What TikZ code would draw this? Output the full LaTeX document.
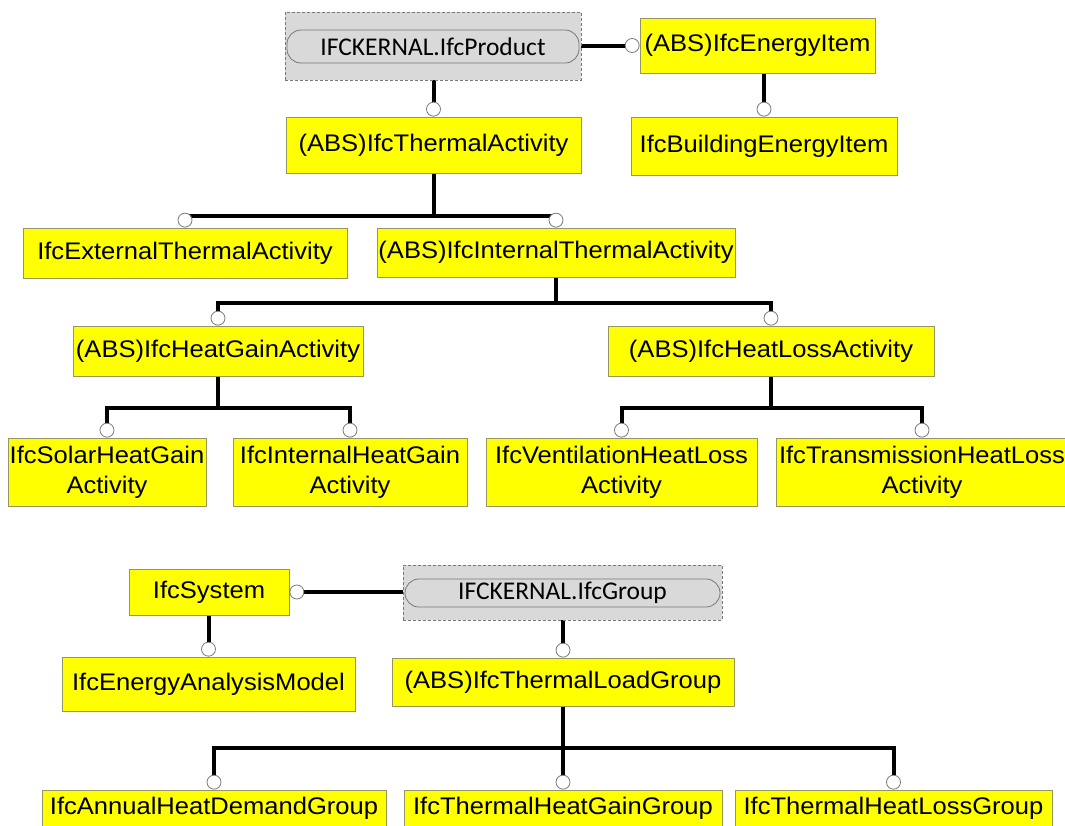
\documentclass[tikz,border=0pt]{standalone}
\usepackage{fontspec}
\setmainfont{Liberation Sans}[FakeStretch=1.065]
\newfontfamily\pillfont{Carlito}
\usetikzlibrary{backgrounds}
\definecolor{boxyellow}{RGB}{255,255,0}
\definecolor{boxedge}{RGB}{150,150,95}
\definecolor{kgray}{RGB}{217,217,217}
\definecolor{kedge}{RGB}{120,120,120}
\begin{document}
\begin{tikzpicture}[x=1pt,y=-1pt,
  cls/.style={draw=boxedge, fill=boxyellow, line width=0.9pt, inner sep=0pt, align=center,
              font=\fontsize{24}{30}\selectfont},
  kbox/.style={draw=kedge, fill=kgray, densely dashed, line width=0.8pt, inner sep=0pt},
  pill/.style={draw=kedge, fill=kgray, line width=0.8pt, rounded corners=14pt, inner sep=0pt,
               font=\pillfont\fontsize{25.5}{30}\selectfont},
  link/.style={line width=4pt, black},
  ring/.style={circle, draw=kedge, fill=white, line width=0.8pt, minimum size=14pt, inner sep=0pt},
]
\useasboundingbox (0,0) rectangle (1065,825);

% ---------- upper hierarchy ----------
\node[kbox, minimum width=296pt, minimum height=68pt] (prod) at (433,46) {};
\node[pill, minimum width=292pt, minimum height=33pt] (prodpill) at (433,46.5) {IFCKERNAL.IfcProduct};
\node[cls, minimum width=235pt, minimum height=55pt] (energy) at (757.5,45.5) {(ABS)IfcEnergyItem};
\node[cls, minimum width=295pt, minimum height=56pt] (thermal) at (433.5,145) {(ABS)IfcThermalActivity};
\node[cls, minimum width=266pt, minimum height=58pt] (building) at (764,146) {IfcBuildingEnergyItem};
\node[cls, minimum width=324pt, minimum height=50pt] (external) at (185,253) {IfcExternalThermalActivity};
\node[cls, minimum width=358pt, minimum height=49pt] (internal) at (556,252.5) {(ABS)IfcInternalThermalActivity};
\node[cls, minimum width=290pt, minimum height=50pt] (heatgain) at (218,351) {(ABS)IfcHeatGainActivity};
\node[cls, minimum width=326pt, minimum height=50pt] (heatloss) at (771,351) {(ABS)IfcHeatLossActivity};
\node[cls, minimum width=198pt, minimum height=68pt] (solar) at (107,472) {IfcSolarHeatGain\\Activity};
\node[cls, minimum width=234pt, minimum height=68pt] (intgain) at (350,472) {IfcInternalHeatGain\\Activity};
\node[cls, minimum width=271pt, minimum height=68pt] (vent) at (621.5,472) {IfcVentilationHeatLoss\\Activity};
\node[cls, minimum width=292pt, minimum height=68pt] (trans) at (922,472) {IfcTransmissionHeatLoss\\Activity};

% ---------- lower hierarchy ----------
\node[cls, minimum width=160pt, minimum height=46pt] (system) at (209,592) {IfcSystem};
\node[kbox, minimum width=319pt, minimum height=55pt] (group) at (562.5,592.5) {};
\node[pill, minimum width=315pt, minimum height=28pt] (grouppill) at (562.5,593) {IFCKERNAL.IfcGroup};
\node[cls, minimum width=293pt, minimum height=54pt] (model) at (208.5,684) {IfcEnergyAnalysisModel};
\node[cls, minimum width=342pt, minimum height=48pt] (load) at (563,682) {(ABS)IfcThermalLoadGroup};
\node[cls, minimum width=344pt, minimum height=36pt] (annual) at (214,808) {IfcAnnualHeatDemandGroup};
\node[cls, minimum width=318pt, minimum height=36pt] (hggroup) at (563,808) {IfcThermalHeatGainGroup};
\node[cls, minimum width=317pt, minimum height=36pt] (hlgroup) at (893.5,808) {IfcThermalHeatLossGroup};

% ---------- rings ----------
\node[ring, anchor=east]  (rEnergy)   at (energy.west) {};
\node[ring, anchor=south] (rThermal)  at (thermal.north) {};
\node[ring, anchor=south] (rBuilding) at (building.north) {};
\node[ring, anchor=south] (rExternal) at (external.north) {};
\node[ring, anchor=south] (rInternal) at (internal.north) {};
\node[ring, anchor=south] (rHeatGain) at (heatgain.north) {};
\node[ring, anchor=south] (rHeatLoss) at (heatloss.north) {};
\node[ring, anchor=south] (rSolar)    at (solar.north) {};
\node[ring, anchor=south] (rIntGain)  at (intgain.north) {};
\node[ring, anchor=south] (rVent)     at (vent.north) {};
\node[ring, anchor=south] (rTrans)    at (trans.north) {};
\node[ring, anchor=west]  (rSystem)   at (system.east) {};
\node[ring, anchor=south] (rModel)    at (model.north) {};
\node[ring, anchor=south] (rLoad)     at (load.north) {};
\node[ring, anchor=south] (rAnnual)   at (annual.north) {};
\node[ring, anchor=south] (rHGGroup)  at (hggroup.north) {};
\node[ring, anchor=south] (rHLGroup)  at (hlgroup.north) {};

% bar levels
\coordinate (barA) at (0,216);
\coordinate (barB) at (0,303);
\coordinate (barC) at (0,408);
\coordinate (barD) at (0,748);

% ---------- connectors ----------
\begin{scope}[on background layer]
\fill[white] (0,0) rectangle (1065,825);
\draw[link] (rEnergy.center -| prod.east) -- (rEnergy.center);
\draw[link] (rThermal.center) -- (rThermal.center |- prod.south);
\draw[link] (rBuilding.center) -- (rBuilding.center |- energy.south);

\draw[link] (thermal.south) -- (thermal.south |- barA);
\draw[link] (rExternal.center) -- (rExternal.center |- barA) -- (rInternal.center |- barA) -- (rInternal.center);

\draw[link] (internal.south) -- (internal.south |- barB);
\draw[link] (rHeatGain.center) -- (rHeatGain.center |- barB) -- (rHeatLoss.center |- barB) -- (rHeatLoss.center);

\draw[link] (heatgain.south) -- (heatgain.south |- barC);
\draw[link] (rSolar.center) -- (rSolar.center |- barC) -- (rIntGain.center |- barC) -- (rIntGain.center);

\draw[link] (heatloss.south) -- (heatloss.south |- barC);
\draw[link] (rVent.center) -- (rVent.center |- barC) -- (rTrans.center |- barC) -- (rTrans.center);

\draw[link] (rSystem.center) -- (rSystem.center -| group.west);
\draw[link] (rModel.center) -- (rModel.center |- system.south);
\draw[link] (rLoad.center) -- (rLoad.center |- group.south);

\draw[link] (load.south) -- (rHGGroup.center);
\draw[link] (rAnnual.center) -- (rAnnual.center |- barD) -- (rHLGroup.center |- barD) -- (rHLGroup.center);
\end{scope}
\end{tikzpicture}
\end{document}
